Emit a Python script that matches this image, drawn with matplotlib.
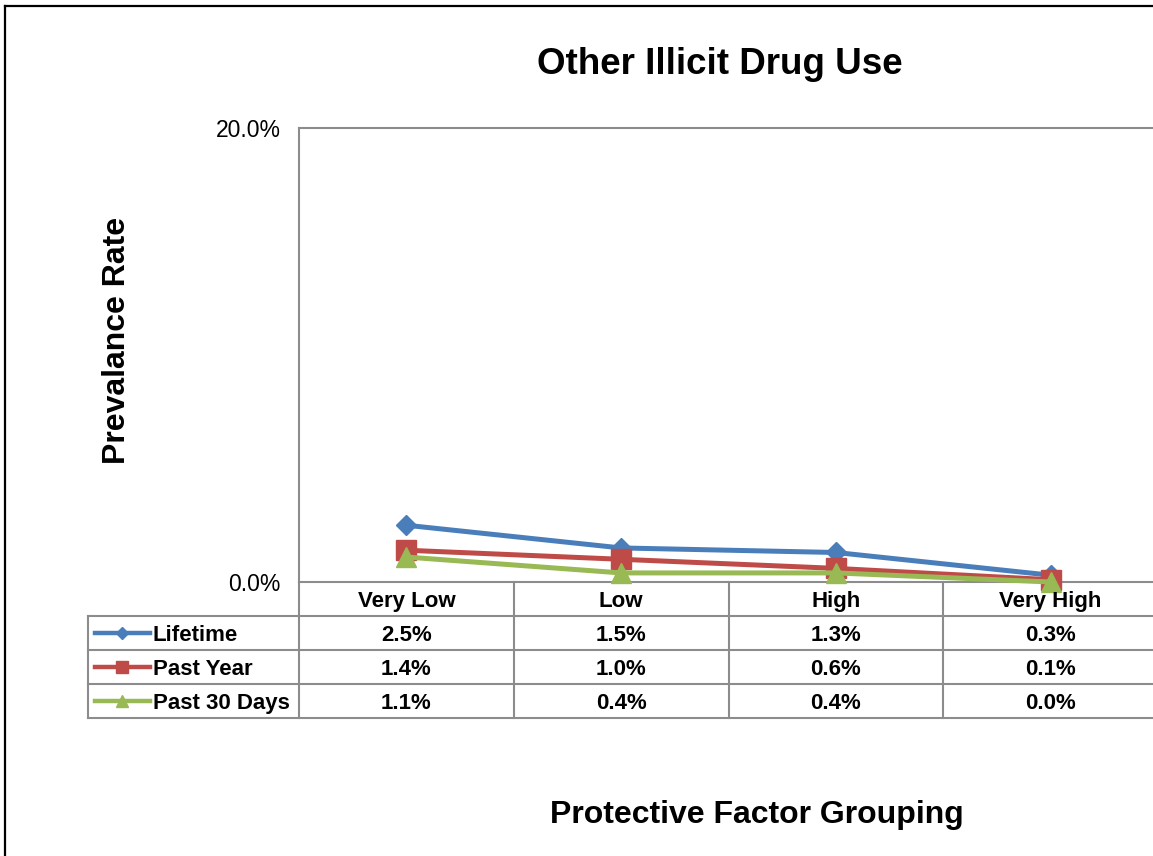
import matplotlib
matplotlib.use("Agg")
import matplotlib.pyplot as plt
from matplotlib.lines import Line2D
from matplotlib.transforms import blended_transform_factory

plt.rcParams['font.family'] = ['Liberation Sans', 'DejaVu Sans']

# ---- data ----
categories = ["Very Low", "Low", "High", "Very High"]
series_names = ["Lifetime", "Past Year", "Past 30 Days"]
lifetime = [2.5, 1.5, 1.3, 0.3]
past_year = [1.4, 1.0, 0.6, 0.1]
past_30_days = [1.1, 0.4, 0.4, 0.0]
y_ticks = [0.0, 20.0]

series_values = [lifetime, past_year, past_30_days]
colors = ["#4A7EBB", "#BE4B48", "#98B954"]
markers = ["D", "s", "^"]
marker_sizes = [10, 14, 14]
key_marker_sizes = [6, 9, 9]

W, H = 1153, 856
fig = plt.figure(figsize=(W / 100, H / 100), dpi=100)


def fx(px):
    return px / W


def fy(py):
    return (H - py) / H


grid_gray = "#8C8C8C"

# outer chart border
fig.add_artist(Line2D([fx(5), fx(5)], [fy(6), fy(900)], color="black", lw=1.6))
fig.add_artist(Line2D([fx(5), fx(1200)], [fy(6), fy(6)], color="black", lw=1.6))

# plot area
left_px, right_px, top_px, bottom_px = 299, 1158, 128, 582
ax = fig.add_axes([fx(left_px), fy(bottom_px), fx(right_px - left_px),
                   (bottom_px - top_px) / H])
ax.set_xlim(-0.5, len(categories) - 0.5)
ax.set_ylim(y_ticks[0], y_ticks[-1])
for side in ["left", "top", "bottom"]:
    ax.spines[side].set_color(grid_gray)
    ax.spines[side].set_linewidth(1.5)
ax.spines["right"].set_visible(False)
ax.set_xticks([])
ax.set_yticks(y_ticks)
ax.set_yticklabels([f"{v:.1f}%" for v in y_ticks], fontsize=16.5)
ax.tick_params(axis="y", length=0, pad=13)

x = list(range(len(categories)))
for vals, c, m, ms in zip(series_values, colors, markers, marker_sizes):
    ax.plot(x, vals, color=c, lw=3.6, marker=m, markersize=ms,
            markerfacecolor=c, markeredgecolor=c, clip_on=False, zorder=3)

# ---- data table below the plot area ----
row_h = 34 / (bottom_px - top_px)  # one row height in axes fraction
trans = blended_transform_factory(ax.transData, ax.transAxes)
x_left_edge = -0.5
x_right_edge = len(categories) - 0.5
x_key_edge = -0.5 - (left_px - 88) / ((right_px - left_px) / len(categories))
n_rows = len(series_names)


def hline(x0, x1, y):
    ax.add_line(Line2D([x0, x1], [y, y], transform=trans, color=grid_gray,
                       lw=1.5, clip_on=False))


def vline(xv, y0, y1):
    ax.add_line(Line2D([xv, xv], [y0, y1], transform=trans, color=grid_gray,
                       lw=1.5, clip_on=False))


# horizontal rules
for r in range(1, n_rows + 2):
    hline(x_key_edge, x_right_edge + 0.2, -r * row_h)
# vertical rules
vline(x_left_edge, 0, -(n_rows + 1) * row_h)
vline(x_key_edge, -row_h, -(n_rows + 1) * row_h)
for i in range(1, len(categories)):
    vline(i - 0.5, 0, -(n_rows + 1) * row_h)

# category header row
for i, cat in enumerate(categories):
    ax.text(i, -0.5 * row_h, cat, transform=trans, ha="center",
            va="center_baseline", fontsize=16, fontweight="bold")

# series rows with legend keys
cat_w = 1.0 / ((right_px - left_px) / len(categories))  # data units per pixel
for r, (name, vals, c, m, kms) in enumerate(zip(series_names, series_values,
                                                 colors, markers,
                                                 key_marker_sizes)):
    yc = -(r + 1.5) * row_h
    k0 = x_key_edge + 7 * cat_w
    k1 = x_key_edge + 62 * cat_w
    ax.add_line(Line2D([k0, k1], [yc, yc], transform=trans, color=c, lw=3.2,
                       clip_on=False))
    ax.add_line(Line2D([(k0 + k1) / 2], [yc], transform=trans, color=c,
                       marker=m, markersize=kms, markerfacecolor=c,
                       markeredgecolor=c, clip_on=False))
    ax.text(x_key_edge + 65 * cat_w, yc, name, transform=trans, ha="left",
            va="center_baseline", fontsize=16, fontweight="bold")
    for i, v in enumerate(vals):
        ax.text(i, yc, f"{v:.1f}%", transform=trans, ha="center",
                va="center_baseline", fontsize=16, fontweight="bold")

# titles
fig.text(fx(720), fy(60), "Other Illicit Drug Use", ha="center",
         va="center_baseline", fontsize=26.5, fontweight="bold")
fig.text(fx(757), fy(811), "Protective Factor Grouping", ha="center",
         va="center_baseline", fontsize=23, fontweight="bold")
fig.text(fx(117), fy(340), "Prevalance Rate", ha="center", va="center",
         rotation=90, fontsize=23, fontweight="bold")

fig.savefig("out.png", dpi=100)
